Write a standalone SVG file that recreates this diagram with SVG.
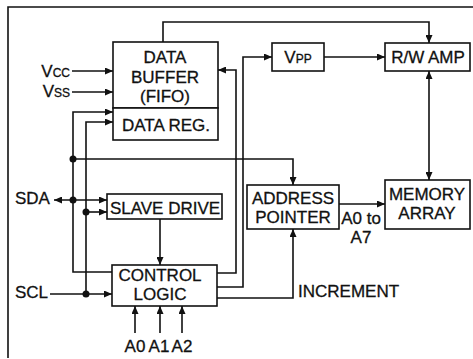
<svg xmlns="http://www.w3.org/2000/svg" width="473" height="359" viewBox="0 0 473 359">
<style>
.box{fill:#fff;stroke:#111;stroke-width:1.6}
.ln{fill:none;stroke:#111;stroke-width:1.6}
.t{font-family:"Liberation Sans",Arial,sans-serif;font-size:17px;fill:#111;stroke:#111;stroke-width:0.3}
.c{text-anchor:middle}
.s{font-size:12px}
.ar{marker-end:url(#ah)}
</style>
<defs>
<marker id="ah" markerUnits="userSpaceOnUse" markerWidth="9" markerHeight="7" refX="8" refY="3.5" orient="auto-start-reverse">
<path d="M0,0 L8,3.5 L0,7 z" fill="#111"/>
</marker>
</defs>
<rect width="473" height="359" fill="#fff"/>
<path class="ln" d="M8,358 V7 H473"/>
<g id="connectors">
<path class="ln ar" d="M72,71 H113"/>
<path class="ln ar" d="M72,92 H113"/>
<path class="ln ar" d="M112,272 H73 V112 H113"/>
<path class="ln ar" d="M86,294 V122 H113"/>
<path class="ln ar" d="M50,294 H112"/>
<path class="ln ar" d="M54,200 H107" marker-start="url(#ah)"/>
<path class="ln ar" d="M86,212 H107"/>
<path class="ln ar" d="M73,159 H293 V185"/>
<path class="ln ar" d="M160,219 V265"/>
<path class="ln ar" d="M135,333 V306"/>
<path class="ln ar" d="M160,333 V306"/>
<path class="ln ar" d="M182,333 V306"/>
<path class="ln ar" d="M163,42 V22 H429 V43"/>
<path class="ln ar" d="M217,273 H236 V70 H218"/>
<path class="ln ar" d="M217,287 H243 V57 H272"/>
<path class="ln ar" d="M217,298 H293 V229"/>
<path class="ln ar" d="M324,57 H385"/>
<path class="ln ar" d="M429,71 V180" marker-start="url(#ah)"/>
<path class="ln ar" d="M339,204 H385"/>
<g fill="#111">
<circle cx="73" cy="159" r="3.5"/>
<circle cx="73" cy="200" r="3.5"/>
<circle cx="86" cy="212" r="3.5"/>
<circle cx="86" cy="294" r="3.5"/>
</g>
</g>
<g id="labels">
<text class="t" x="70" y="77" text-anchor="end">V<tspan class="s">CC</tspan></text>
<text class="t" x="70" y="97" text-anchor="end">V<tspan class="s">SS</tspan></text>
<text class="t" x="15" y="204">SDA</text>
<text class="t" x="15" y="298">SCL</text>
<text class="t c" x="135" y="352">A0</text>
<text class="t c" x="159" y="352">A1</text>
<text class="t c" x="182" y="352">A2</text>
<text class="t c" x="361" y="224">A0 to</text>
<text class="t c" x="361" y="243">A7</text>
<text class="t" x="298" y="297">INCREMENT</text>
</g>
<g id="data-buffer">
<rect class="box" x="113" y="42" width="105" height="66"/>
<text class="t c" x="165" y="63">DATA</text>
<text class="t c" x="165" y="83">BUFFER</text>
<text class="t c" x="165" y="102">(FIFO)</text>
</g>
<g id="data-reg">
<rect class="box" x="113" y="108" width="105" height="32"/>
<text class="t c" x="166" y="131">DATA REG.</text>
</g>
<g id="vpp">
<rect class="box" x="272" y="43" width="52" height="28"/>
<text class="t c" x="298" y="63">V<tspan class="s">PP</tspan></text>
</g>
<g id="rw-amp">
<rect class="box" x="385" y="43" width="85" height="28"/>
<text class="t c" x="428" y="63">R/W AMP</text>
</g>
<g id="slave-drive">
<rect class="box" x="107" y="194" width="115" height="25"/>
<text class="t c" x="165" y="214">SLAVE DRIVE</text>
</g>
<g id="address-pointer">
<rect class="box" x="247" y="185" width="92" height="44"/>
<text class="t c" x="293" y="204">ADDRESS</text>
<text class="t c" x="293" y="223">POINTER</text>
</g>
<g id="memory-array">
<rect class="box" x="385" y="180" width="85" height="49"/>
<text class="t c" x="427" y="200">MEMORY</text>
<text class="t c" x="427" y="219">ARRAY</text>
</g>
<g id="control-logic">
<rect class="box" x="112" y="265" width="105" height="41"/>
<text class="t c" x="160" y="281">CONTROL</text>
<text class="t c" x="160" y="300">LOGIC</text>
</g>
</svg>
